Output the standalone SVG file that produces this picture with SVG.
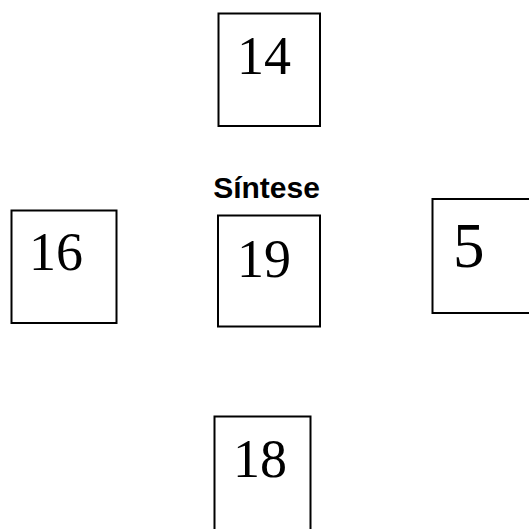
<svg xmlns="http://www.w3.org/2000/svg" width="529" height="529" viewBox="0 0 529 529">
<style>
.box{fill:#fff;stroke:#000;stroke-width:2}
.num{font-family:"Liberation Serif","Times New Roman",serif;font-size:54px;fill:#000}
.lbl{font-family:"Liberation Sans",Arial,sans-serif;font-weight:bold;font-size:30px;fill:#000}
</style>
<rect width="529" height="529" fill="#fff"/>
<g id="connectors"/>
<g id="node-14">
<rect class="box" x="218.5" y="13.5" width="101.5" height="112.5"/>
<text class="num" x="237" y="73.5">14</text>
</g>
<g id="node-sintese-label">
<text class="lbl" x="266.5" y="198.3" text-anchor="middle">Síntese</text>
</g>
<g id="node-19">
<rect class="box" x="218" y="215.5" width="102" height="111"/>
<text class="num" x="237" y="276.7">19</text>
</g>
<g id="node-16">
<rect class="box" x="11.5" y="210.5" width="105" height="112.5"/>
<text class="num" x="29" y="270">16</text>
</g>
<g id="node-5">
<rect class="box" x="432.5" y="199" width="100" height="114"/>
<text class="num" x="453" y="267" style="font-size:63px">5</text>
</g>
<g id="node-18">
<rect class="box" x="214.5" y="416.5" width="96" height="120"/>
<text class="num" x="233" y="477">18</text>
</g>
</svg>
